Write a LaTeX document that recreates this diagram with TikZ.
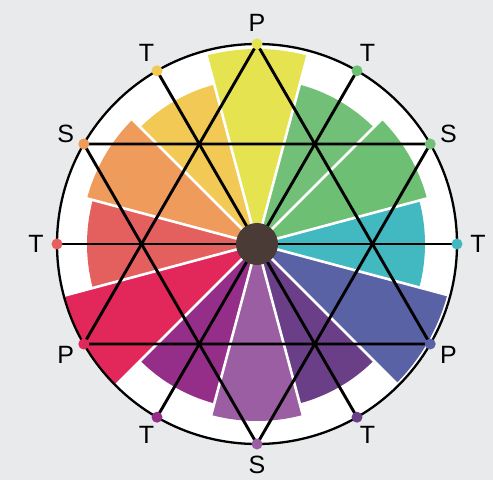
\documentclass[tikz,border=0pt]{standalone}
\usepackage{fontspec}
\setmainfont{Liberation Sans}
\usetikzlibrary{calc}
\definecolor{bg}{HTML}{E8EAEB}
\definecolor{cY}{HTML}{E5E34F}
\definecolor{cYO}{HTML}{F2C955}
\definecolor{cO}{HTML}{EF9B5C}
\definecolor{cRO}{HTML}{E4605F}
\definecolor{cR}{HTML}{E2285A}
\definecolor{cRV}{HTML}{942E88}
\definecolor{cV}{HTML}{9C5EA3}
\definecolor{cBV}{HTML}{6A3F88}
\definecolor{cB}{HTML}{5A62A6}
\definecolor{cBG}{HTML}{42B8C0}
\definecolor{cG}{HTML}{6DBF73}
\definecolor{cYG}{HTML}{72C078}
\definecolor{hub}{HTML}{4B3B36}
\begin{document}
\begin{tikzpicture}[x=1pt,y=1pt,
  lbl/.style={font=\fontsize{25}{25}\selectfont, inner sep=0pt},
  dot/.style={circle, fill=#1, minimum size=11pt, inner sep=0pt},
  link/.style={line width=2.9pt, black, line join=round},
  gap/.style={white, line width=2.6pt},
  rim/.style={line width=2.3pt, black},
]
\useasboundingbox (0,0) rectangle (493,480);
\fill[bg] (0,0) rectangle (493,480);
\coordinate (C) at (257,236);
\fill[white] (C) circle[radius=200pt];
% colour wedges
\foreach \a/\rad/\c in {90/195/cY, 60/165/cYG, 30/176/cG, 0/168/cBG, -30/197/cB, -60/165/cBV, -90/177/cV, -120/165/cRV, -150/200/cR, 180/170/cRO, 150/176/cO, 120/165/cYO}
  \fill[\c] (C) -- ($(C)+(\a-15:\rad pt)$) arc[start angle=\a-15, end angle=\a+15, radius=\rad pt] -- cycle;
% white gaps between wedges
\foreach \b in {15,45,...,345}
  \draw[gap] (C) -- ($(C)+(\b:200pt)$);
% points on the circle
\foreach \a in {0,30,...,330}
  \coordinate (p\a) at ($(C)+(\a:200pt)$);
% connectors
\draw[link] (p90) -- (p210) -- (p330) -- cycle;
\draw[link] (p30) -- (p150) -- (p270) -- cycle;
\draw[link] (p0) -- (p180);
\draw[link] (p60) -- (p240);
\draw[link] (p120) -- (p300);
% hub
\node[circle, fill=hub, minimum size=42pt, inner sep=0pt] (hubdot) at (C) {};
% rim
\draw[rim] (C) circle[radius=200pt];
% dots
\foreach \a/\c in {90/cY, 60/cG, 30/cYG, 0/cBG, 330/cB, 300/cBV, 270/cV, 240/cRV, 210/cR, 180/cRO, 150/cO, 120/cYO}
  \node[dot=\c] (d\a) at (p\a) {};
% labels
\foreach \a/\t in {90/P, 60/T, 30/S, 0/T, 330/P, 300/T, 270/S, 240/T, 210/P, 180/T, 150/S, 120/T}
  \node[lbl] (l\a) at ($(C)+(\a:221pt)$) {\t};
\end{tikzpicture}
\end{document}
